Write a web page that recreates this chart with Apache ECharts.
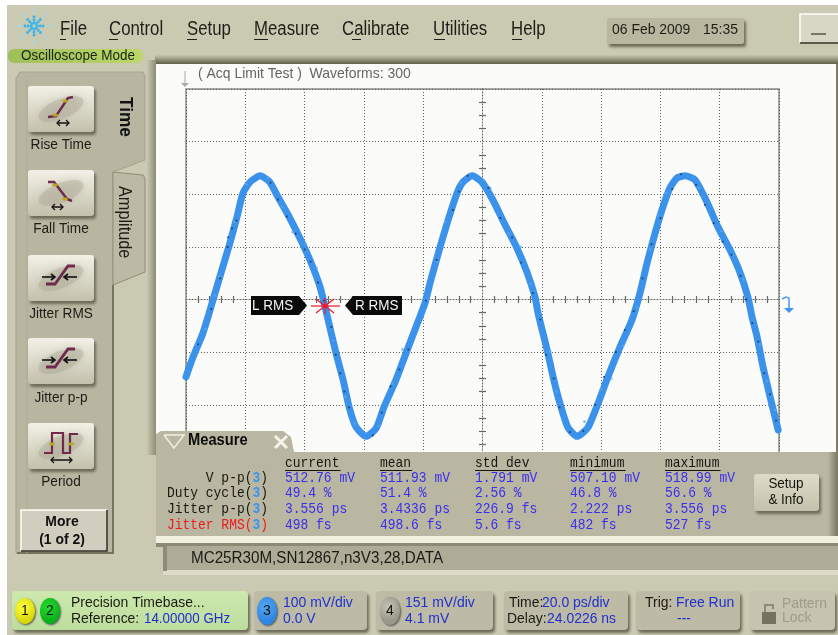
<!DOCTYPE html>
<html><head><meta charset="utf-8">
<script src="https://cdn.jsdelivr.net/npm/echarts@6/dist/echarts.min.js"></script>
<style>html,body{margin:0;padding:0;background:#fff}#c{width:838px;height:635px;filter:blur(0.45px)}</style>
</head><body><div id="c"></div>
<script>
// Waveform, channel 3 (time in ps relative to screen centre, amplitude in mV)
var wavePs=[-100,-97.6,-94.3,-92.2,-89.9,-87.9,-85.2,-82.8,-80.8,-78.4,-75,-71.7,-69,-65.6,-61.6,-58.2,-54.8,-51.8,-49.4,-47,-45,-42.7,-39.3,-35.9,-33.2,-29.2,-25.8,-22.4,-19.4,-17.7,-14.3,-11.6,-8.6,-6.6,-3.5,-0.2,3.5,7.6,11.6,15,17.7,18.7,21.8,23.8,26.1,28.8,31.9,35.6,39,42.3,46.4,50.4,53.1,55.5,58.2,60.5,63.2,65.6,68.3,71.7,75.7,79.4,83.5,86.8,89.5,90.9,92.6,94.6,97,99.7];
var waveMv=[-147,-109,-64,-26,18,56,107,157,202,223,235,223,195,161,117,75,24,-45,-102,-153,-204,-242,-260,-245,-204,-153,-102,-52,-7,31,100,151,202,223,235,223,189,142,98,52,5,-25,-96,-147,-197,-243,-260,-243,-197,-147,-90,-39,12,69,126,170,212,231,235,227,185,138,94,52,5,-33,-71,-128,-185,-248];
// Dark persistence hits seen on the trace
var hitPs=[-96,-91.5,-88.5,-86,-85.8,-84.5,-83,-71.5,-69,-66,-63,-60,-58,-55.5,-53.5,-51,-49.5,-48,-46.6,-45,-37,-34,-31,-28,-25,-19,-15.5,-10,-8,-5,2,6,10,13,17,19.5,21.5,24,26,29.5,34,38,41,45,48,51,54,57,60,64,67,72,75,78,81,84,87,89,91,93,95,97,99];
var hitMv=[-85,-18,40,100,118,135,150,222,190,158,125,95,72,32,-2,-52,-105,-140,-175,-205,-258,-215,-165,-133,-95,-2,75,170,205,235,212,155,118,70,12,-38,-105,-150,-205,-252,-250,-200,-147,-100,-58,-22,40,105,155,210,238,218,180,145,110,85,45,0,-45,-80,-140,-180,-230];
// Pale outlying hits along the edge of the trace
var fringePs=[-96.6,-93.4,-90.2,-88.8,-83.6,-79.6,-72.4,-67.6,-64,-59.6,-56,-50.4,-46.2,-43.2,-35,-30.2,-27,-18.6,-15.4,-12.6,-7.4,2.6,8.8,12.8,16.2,22.8,25,34.4,40,43.4,47.4,52.2,56.6,59.2,62,73,80.6,84.6,88,93.6,96,98.6];
var fringeMv=[-85,-56,8,45,148,219,232,176,128,105,60,-78,-185,-235,-240,-160,-95,0,72,148,222,212,125,100,30,-98,-175,-232,-170,-150,-88,-15,95,160,202,212,130,85,38,-85,-155,-210];
// Interface text
var menuItems=['File','Control','Setup','Measure','Calibrate','Utilities','Help'];
var measureButtons=['Rise Time','Fall Time','Jitter RMS','Jitter p-p','Period'];
var columnHeads=['current','mean','std dev','minimum','maximum'];
var rowLabels=['V p-p','Duty cycle','Jitter p-p','Jitter RMS'];
var colCurrent=['512.76 mV','49.4 %','3.556 ps','498 fs'];
var colMean=['511.93 mV','51.4 %','3.4336 ps','498.6 fs'];
var colStd=['1.791 mV','2.56 %','226.9 fs','5.6 fs'];
var colMin=['507.10 mV','46.8 %','2.222 ps','482 fs'];
var colMax=['518.99 mV','56.6 %','3.556 ps','527 fs'];

var SANS='"Liberation Sans"';
var g=[];
function R(x,y,w,h,fill,o){o=o||{};g.push({type:'rect',z:o.z==null?10:o.z,shape:{x:x,y:y,width:w,height:h,r:o.r||0},style:Object.assign({fill:fill},o.style||{})});}
function T(x,y,text,size,fill,o){o=o||{};
  var mono=!!o.family, sx=o.sx||(mono?0.9:0.93), px=mono?size:size+1;
  g.push({type:'text',z:o.z==null?11:o.z,x:x,y:y,rotation:o.rot||0,scaleX:sx,style:{text:text,font:(o.weight?o.weight+' ':'')+px+'px '+(o.family||SANS),fill:fill,align:o.align||'left',verticalAlign:'middle'}});}
function L(pts,color,w,o){o=o||{};g.push({type:'polyline',z:o.z==null?11:o.z,shape:{points:pts},style:{stroke:color,lineWidth:w,fill:o.fill||null}});}
function C(x,y,r,fill,o){o=o||{};g.push({type:'ellipse',z:o.z==null?11:o.z,shape:{cx:x,cy:y,rx:r,ry:o.ry||r},style:Object.assign({fill:fill},o.style||{})});}
function grad(a,b){return new echarts.graphic.LinearGradient(0,0,0,1,[{offset:0,color:a},{offset:1,color:b}]);}
function gradH(a,b){return new echarts.graphic.LinearGradient(0,0,1,0,[{offset:0,color:a},{offset:1,color:b}]);}
function ball(c1,c2){return new echarts.graphic.RadialGradient(0.4,0.35,0.7,[{offset:0,color:c1},{offset:1,color:c2}]);}
var bevel={shadowBlur:3,shadowOffsetX:2,shadowOffsetY:3,shadowColor:'#6d6b58'};

// Page background and main surfaces
R(7,5,831,630,'#cac9b1',{z:-5});
R(155,55,683,9,grad('#c8c7ae','#5f5e48'),{z:-4});
R(147,60,9,395,gradH('#c8c7ae','#8f8d77'),{z:-4});
R(156,64,680,400,'#fbfbf9',{z:-3});
R(836,64,2,400,'#7f7d68',{z:-3});

// Logo
var spokes=[[1,0],[.71,.71],[0,1],[-.71,.71],[-1,0],[-.71,-.71],[0,-1],[.71,-.71]];
spokes.forEach(function(s){[3,6,9,12,15,18].forEach(function(d,i){
  C(34+s[0]*d,26+s[1]*d,i<3?1.5:0.9,i<3?'#3db4ec':'#a3dcf4');});});

// Menu
var menuX=[60,109,187,254,342,433,511];
var underX=[[60,66],[109,118],[187,197],[254,268],[352,361],[434,445],[512,522]];
menuItems.forEach(function(m,i){T(menuX[i],29,m,19,'#1f1f17',{sx:0.84});L([[underX[i][0],39.5],[underX[i][1],39.5]],'#1f1f17',1);});

// Date box and minimise
R(607,18,137,26,'#b9b79f',{r:2,style:bevel});
T(612,30,'06 Feb 2009',14,'#1e1e16');
T(703,30,'15:35',14,'#1e1e16');
R(800,14,38,29,'#d8d6c4');
L([[800,43],[800,14],[838,14]],'#ffffff',1.5);
L([[800,43],[838,43]],'#35352a',1.5);
L([[811,34],[826,34]],'#55553f',1.5);

// Mode tag
R(8,49,135,14,gradH('#9fbf58','#bcd86c'),{r:6});
T(21,56,'Oscilloscope Mode',13.5,'#1d2412');

// Left tab panel
g.push({type:'polygon',z:5,shape:{points:[[16,78],[20,72],[143,72],[145,76],[145,160],[113,172],[113,553],[16,553]]},style:{fill:'#b8b6a1',stroke:'#a5a38e',lineWidth:1}});
g.push({type:'polygon',z:5,shape:{points:[[113,172],[143,175],[145,178],[145,272],[113,285]]},style:{fill:'#bcbaa4',stroke:'#8f8d79',lineWidth:1}});
L([[113,285],[113,553],[17,553]],'#77755f',2,{z:6});
L([[27,78],[27,553]],'#aeac97',1,{z:6});
T(125,97,'Time',17.5,'#111',{rot:-Math.PI/2,weight:'bold'});
T(124,186,'Amplitude',16.5,'#1c1c14',{rot:-Math.PI/2});

// Measurement buttons
var btnY=[86,170,255,338,423];
var labelY=[145,229,314,398,482];
measureButtons.forEach(function(n,i){
  var y=btnY[i];
  R(28,y,66,46,grad('#f3f1e6','#c3c1ac'),{r:3,style:bevel});
  g.push({type:'ellipse',z:11,rotation:0.4,x:61,y:y+23,shape:{cx:0,cy:0,rx:24,ry:10},style:{fill:'#a9a793',opacity:0.4,shadowBlur:8,shadowColor:'#a9a793'}});
  T(61,labelY[i],n,13.7,'#1c1c14',{align:'center'});
});
var maroon='#6f2a4e';
L([[48,117],[56,116],[68,98],[73,97]],maroon,2.5);C(65,101,3,'#b9a81e',{ry:1.5});C(55,115,3,'#b9a81e',{ry:1.5});
L([[57,123],[69,123]],'#111',1.5);L([[60,120],[57,123],[60,126]],'#111',1.3);L([[66,120],[69,123],[66,126]],'#111',1.3);
L([[48,182],[54,182],[67,199],[72,201]],maroon,2.5);C(55,185,3,'#b9a81e',{ry:1.5});C(65,199,3,'#b9a81e',{ry:1.5});
L([[52,207],[63,207]],'#111',1.5);L([[55,204],[52,207],[55,210]],'#111',1.3);L([[60,204],[63,207],[60,210]],'#111',1.3);
[255,338].forEach(function(y){
  L([[46,y+29],[55,y+29],[68,y+11],[75,y+11]],maroon,2.8);
  L([[42,y+22],[54,y+22]],'#111',1.6);L([[51,y+19],[55,y+22],[51,y+25]],'#111',1.6);
  L([[65,y+22],[77,y+22]],'#111',1.6);L([[68,y+19],[64,y+22],[68,y+25]],'#111',1.6);
});
L([[44,453],[52,453],[52,433],[63,433],[63,453],[70,453],[70,434],[78,434]],maroon,2.2);
C(52,444,3,'#b9a81e',{ry:1.5});C(71,444,3,'#b9a81e',{ry:1.5});
L([[51,460],[72,460]],'#111',1.5);L([[54,457],[51,460],[54,463]],'#111',1.3);L([[69,457],[72,460],[69,463]],'#111',1.3);
R(21,510,86,41,'#d1cebf');
L([[21,551],[21,510],[107,510]],'#fffef5',1.5);
L([[21,551],[107,551],[107,510]],'#30302a',1.5);
T(62,522,'More',14,'#111',{align:'center',weight:'bold'});
T(62,540,'(1 of 2)',14,'#111',{align:'center',weight:'bold'});

// Plot captions
T(198,73.5,'( Acq Limit Test )  Waveforms: 300',14,'#66665f');
L([[185,71],[185,84]],'#aaa',1);
g.push({type:'polygon',z:11,shape:{points:[[181,83],[189,83],[185,87]]},style:{fill:'#aaa'}});

// Jitter markers
g.push({type:'polygon',z:12,shape:{points:[[251,296],[299,296],[307,305.5],[299,315],[251,315]]},style:{fill:'#0a0a0a'}});
g.push({type:'polygon',z:12,shape:{points:[[402,296],[353,296],[345,305.5],[353,315],[402,315]]},style:{fill:'#0a0a0a'}});
T(252,306,'L RMS',13.5,'#f4f4f4',{z:13});
T(355,306,'R RMS',13.5,'#f4f4f4',{z:13});
[[311,306,340,306],[316,299,334,313],[316,313,334,299],[325,298,325,314]].forEach(function(s){L([[s[0],s[1]],[s[2],s[3]]],'#f01826',1.2,{z:12});});
C(325,306,2,'#f01826',{z:12});

// Trigger level arrow
L([[782,299],[786,297],[789,298],[789,311]],'#4f9fee',1.6);
g.push({type:'polygon',z:11,shape:{points:[[784,308],[794,308],[789,313]]},style:{fill:'#3d94ec'}});

// Measure panel
g.push({type:'polygon',z:20,shape:{points:[[156,434],[161,431],[283,431],[291,437],[294,452],[828,452],[828,536],[156,536]]},style:{fill:'#b9b6a1'}});
R(828,452,8,84,gradH('#b9b6a1','#83816c'),{z:20});
R(836,452,2,84,'#7f7d68',{z:20});
L([[164,435],[184,435],[174,448],[164,435]],'#f1efe2',1.5,{z:21});
T(188,441,'Measure',14.8,'#0c0c0c',{weight:'bold',z:21});
L([[275,436],[287,448]],'#f5f3e8',3,{z:21});L([[287,436],[275,448]],'#f5f3e8',3,{z:21});
R(156,536,682,7,'#f1f0e0',{z:20});
R(156,543,682,4,'#8b8a75',{z:20});

var MONO='"Liberation Mono"';
var colX=[285,380,475,570,665];
var colData=[colCurrent,colMean,colStd,colMin,colMax];
var rowY=[478,493.5,509,525];
columnHeads.forEach(function(h,c){
  T(colX[c],463,h,14.4,'#17170f',{family:MONO,z:22});
  L([[colX[c],470.5],[colX[c]+h.length*7.8+1,470.5]],'#17170f',1,{z:22});
  colData[c].forEach(function(v,r){T(colX[c],rowY[r],v,14.4,'#3a2df0',{family:MONO,z:22});});
});
rowLabels.forEach(function(lab,r){
  var col=r===3?'#f01a1a':'#17170f';
  g.push({type:'text',z:22,x:268,y:rowY[r],scaleX:0.9,style:{text:'{l|'+lab+'(}{n|3}{l|)}',align:'right',verticalAlign:'middle',font:'14.4px '+MONO,
    rich:{l:{fill:col,font:'14.4px '+MONO},n:{fill:'#3d94ec',font:'bold 14.4px '+MONO}}}});
});
R(754,474,65,37,grad('#dedcc8','#c4c2ac'),{z:21,r:3,style:bevel});
T(786,484,'Setup',13.5,'#14140d',{align:'center',z:22});
T(786,500,'& Info',13.5,'#14140d',{align:'center',z:22});

// Label bar
R(163,546,675,25,'#aeac97',{z:20});
R(163,546,4,25,'#8e8c77',{z:21});
R(163,570,675,5,'#dcdbc6',{z:20});
T(191,559,'MC25R30M,SN12867,n3V3,28,DATA',15,'#1a1a12',{z:22,sx:0.95});

// Bottom status buttons
function status(x,y,w,h,fill){R(x,y,w,h,fill,{r:4,z:21,style:bevel});}
var blue='#1f2fd0';
status(12,591,236,39,grad('#cde9ae','#bcdc9c'));
C(25,611,10,ball('#ffff40','#d8d808'),{ry:13,z:22,style:{shadowBlur:2,shadowOffsetX:1,shadowOffsetY:1,shadowColor:'#555'}});
C(50,611,10,ball('#25dc30','#0bb018'),{ry:13,z:22,style:{shadowBlur:2,shadowOffsetX:1,shadowOffsetY:1,shadowColor:'#555'}});
T(25,611,'1',14,'#111',{align:'center',z:23});T(50,611,'2',14,'#111',{align:'center',z:23});
T(71,603,'Precision Timebase...',14,'#1a1a12',{z:23});
T(71,619,'Reference:',14,'#1a1a12',{z:23});T(144,619,'14.00000 GHz',14,blue,{z:23,sx:0.89});

status(254,591,113,39,'#bdbba6');
C(267,611,10,ball('#55a8f4','#2f86e0'),{ry:14,z:22,style:{shadowBlur:2,shadowOffsetX:1,shadowOffsetY:1,shadowColor:'#555'}});
T(267,611,'3',14,'#111',{align:'center',z:23});
T(283,603,'100 mV/div',14,blue,{z:23});T(283,619,'0.0 V',14,blue,{z:23});

status(376,591,117,39,'#bdbba6');
C(390,611,10,ball('#c4c3b2','#9a9888'),{ry:14,z:22,style:{shadowBlur:2,shadowOffsetX:1,shadowOffsetY:1,shadowColor:'#555'}});
T(390,611,'4',14,'#111',{align:'center',z:23});
T(405,603,'151 mV/div',14,blue,{z:23});T(405,619,'4.1 mV',14,blue,{z:23});

status(504,591,124,39,'#bdbba6');
T(509,603,'Time:',14,'#1a1a12',{z:23});T(542,603,'20.0 ps/div',14,blue,{z:23});
T(507,619,'Delay:',14,'#1a1a12',{z:23});T(547,619,'24.0226 ns',14,blue,{z:23});

status(636,591,104,39,'#bdbba6');
T(645,603,'Trig:',14,'#1a1a12',{z:23});T(676,603,'Free Run',14,blue,{z:23});
T(684,619,'---',14,blue,{align:'center',z:23});

status(750,591,85,39,'#c6c4ae');
R(762,612,14,12,'#74735f',{z:23});
L([[765,612],[765,605],[773,605],[773,609]],'#8c8b77',2,{z:23});
T(782,604,'Pattern',14,'#9d9c8b',{z:23});T(782,618,'Lock',14,'#9d9c8b',{z:23});

var chart=echarts.init(document.getElementById('c'));
var gridLine={show:true,lineStyle:{color:'#5f5f5a',type:[1,2],width:1}};
var noLabel={show:false};
var mt={color:'#666',width:1.2};
chart.setOption({
  animation:false,
  backgroundColor:'#ffffff',
  grid:{left:186,top:89,width:593,height:421,show:true,backgroundColor:'#fbfbf9',borderColor:'#8a8a86',borderWidth:1.5},
  xAxis:[
    {type:'value',position:'bottom',min:-100,max:100,interval:20,axisLabel:noLabel,splitLine:gridLine,
     axisLine:{show:true,onZero:true,lineStyle:{color:'#5f5f5a',type:[1,2]}},
     axisTick:{show:false},
     minorTick:{show:true,splitNumber:5,length:3.5,lineStyle:mt}},
    {type:'value',position:'top',min:-100,max:100,interval:20,axisLabel:noLabel,splitLine:{show:false},
     axisLine:{show:false,onZero:true},axisTick:{show:false},
     minorTick:{show:true,splitNumber:5,length:3.5,lineStyle:mt}}
  ],
  yAxis:[
    {type:'value',position:'left',min:-400,max:400,interval:100,axisLabel:noLabel,splitLine:gridLine,
     axisLine:{show:true,onZero:true,lineStyle:{color:'#5f5f5a',type:[1,2]}},
     axisTick:{show:false},
     minorTick:{show:true,splitNumber:4,length:3.5,lineStyle:mt}},
    {type:'value',position:'right',min:-400,max:400,interval:100,axisLabel:noLabel,splitLine:{show:false},
     axisLine:{show:false,onZero:true},axisTick:{show:false},
     minorTick:{show:true,splitNumber:4,length:3.5,lineStyle:mt}}
  ],
  series:[
    {type:'line',name:'Channel 3',data:wavePs.map(function(t,i){return [t,waveMv[i]];}),smooth:0.2,showSymbol:false,z:3,
     lineStyle:{color:'#3b92ea',width:7,cap:'round'},clip:true},
    {type:'scatter',name:'Fringe',data:fringePs.map(function(t,i){return [t,fringeMv[i]];}),symbol:'rect',symbolSize:2.4,z:4,
     itemStyle:{color:'#5aa6ee'},clip:true},
    {type:'scatter',name:'Hits',data:hitPs.map(function(t,i){return [t,hitMv[i]];}),symbol:'rect',symbolSize:1.8,z:5,
     itemStyle:{color:'#17304e'},clip:true}
  ],
  graphic:{elements:g}
});
</script></body></html>
